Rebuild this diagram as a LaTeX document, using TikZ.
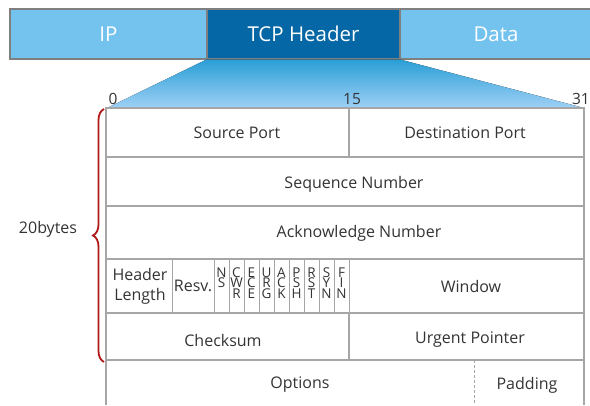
\documentclass[tikz,border=0pt]{standalone}
\usepackage{fontspec}
\setmainfont{Open Sans}
\usetikzlibrary{decorations.pathreplacing}
\definecolor{lightblue}{HTML}{74C2EE}
\definecolor{darkblue}{HTML}{0567A5}
\definecolor{barborder}{HTML}{7F7F7F}
\definecolor{gridgray}{HTML}{A6A6A6}
\definecolor{txt}{HTML}{333333}
\definecolor{bracered}{HTML}{B01818}
\definecolor{trtop}{HTML}{2A9FD6}
\definecolor{trbot}{HTML}{9FD0F6}
\tikzset{
  barbox/.style={draw=barborder, line width=1.3pt, minimum height=50pt, inner sep=0pt, text=white, font=\fontsize{20.5}{24}\selectfont},
  grid/.style={draw=gridgray, line width=1.2pt},
  lbl/.style={text=txt, inner sep=0pt, font=\fontsize{16}{19}\selectfont, align=center},
  num/.style={text=txt, inner sep=0pt, font=\fontsize{15.5}{18}\selectfont},
  flag/.style={text=txt, inner sep=0pt, anchor=base, font=\fontsize{13.5}{14}\selectfont},
}
\begin{document}
\begin{tikzpicture}[x=1pt,y=-1pt]
\useasboundingbox (0,0) rectangle (590,405);
% top bar
\node[barbox, fill=lightblue, minimum width=197pt] (ip) at (108.5,34) {IP};
\node[barbox, fill=darkblue, minimum width=193pt] (tcp) at (303.5,34) {TCP Header};
\node[barbox, fill=lightblue, minimum width=196pt] (data) at (498,34) {\hspace*{-4pt}Data};
% trapezoid
\coordinate (tl) at (107,108);
\coordinate (tr) at (584,108);
\fill[top color=trtop, bottom color=trbot] (tcp.south west) -- (tcp.south east) -- (tr) -- (tl) -- cycle;
% table grid
\draw[grid] (106,405) -- (106,108) -- (584,108) -- (584,405);
\foreach \yy in {157,206,259,313,360} \draw[grid] (106,\yy) -- (584,\yy);
\draw[grid] (349,108) -- (349,157);
\draw[grid] (349,313) -- (349,360);
\draw[grid, line width=0.9pt] (172,259) -- (172,313);
\foreach \xx in {214,229,244,259,274,289,304,319,334,349}
  \draw[grid, line width=0.9pt] (\xx,259) -- (\xx,313);
\draw[grid, line width=0.8pt, dashed, dash pattern=on 3pt off 2pt] (474,360) -- (474,405);
% bit numbers
\node[num] (b0) at (113,99) {0};
\node[num] (b15) at (352,99) {15};
\node[num, anchor=east] (b31) at (590,99) {31};
% labels
\node[lbl] (sp) at (237,133) {Source Port};
\node[lbl] (dp) at (465,133) {Destination Port};
\node[lbl] (seq) at (354,184) {Sequence Number};
\node[lbl] (ack) at (359,233) {Acknowledge Number};
\node[lbl, font=\fontsize{16}{20}\selectfont] (hl) at (140,286) {Header\\Length};
\node[lbl] (resv) at (193,286) {Resv.};
\node[lbl] (win) at (471,286) {Window};
\node[lbl] (cks) at (223,340) {Checksum};
\node[lbl] (urg) at (470,340) {Urgent Pointer};
\node[lbl] (opt) at (300,385) {Options};
\node[lbl] (pad) at (527,385) {Padding};
% flags
\node[flag] (f0a) at (221.5,277) {N};
\node[flag] (f0b) at (221.5,287.6) {S};
\foreach \xx/\la/\lb/\lc [count=\i] in {236.5/C/W/R, 251.5/E/C/E, 266.5/U/R/G, 281.5/A/C/K, 296.5/P/S/H, 311.5/R/S/T, 326.5/S/Y/N, 341.5/F/I/N} {
  \node[flag] (f\i a) at (\xx,277) {\la};
  \node[flag] (f\i b) at (\xx,287.6) {\lb};
  \node[flag] (f\i c) at (\xx,298.2) {\lc};
}
% brace
\coordinate (bt) at (104,109);
\coordinate (bb) at (104,362);
\draw[bracered, line width=1.8pt, decorate, decoration={brace, amplitude=11pt}] (bb) -- (bt);
\node[lbl] (bytes) at (48,229) {20bytes};
\end{tikzpicture}
\end{document}
